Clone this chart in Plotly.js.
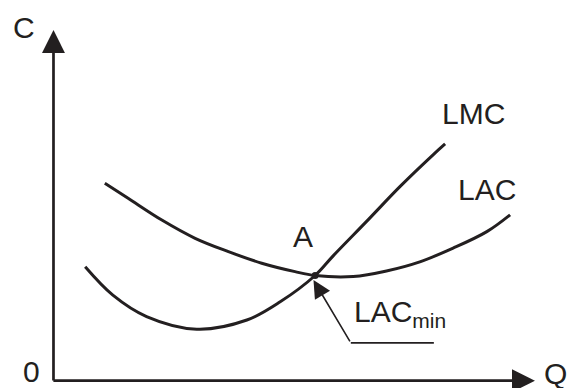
<!DOCTYPE html>
<html>
<head>
<meta charset="utf-8">
<script src="https://cdn.plot.ly/plotly-3.0.1.min.js"></script>
<style>
  html, body { margin: 0; padding: 0; background: #fff; }
  #chart { width: 569px; height: 388px; }
</style>
</head>
<body>
<div id="chart"></div>
<script>
// long-run average cost curve
var lacQ = [1.28, 1.86, 2.70, 3.53, 4.36, 5.19, 6.02, 6.52, 7.47, 8.30, 9.13, 9.96, 10.80, 11.38];
var lacC = [5.63, 5.20, 4.58, 4.06, 3.68, 3.35, 3.11, 3.00, 2.97, 3.13, 3.39, 3.78, 4.25, 4.73];

// long-run marginal cost curve
var lmcQ = [0.79, 1.48, 2.32, 3.57, 4.82, 5.65, 6.52, 6.97, 7.81, 8.64, 9.46, 9.76];
var lmcC = [3.25, 2.44, 1.83, 1.47, 1.73, 2.25, 3.00, 3.56, 4.55, 5.54, 6.44, 6.75];

// point A where the two curves cross
var pointA = [6.52, 3.00];

// leader line for the LACmin label: tip, knee, end
var leaderQ = [6.48, 7.41, 9.48];
var leaderC = [2.87, 1.08, 1.08];

// axis ends
var qMax = 12;
var cMax = 10;

var ink = "#231f20";
var font = { family: "Liberation Sans, Arial, sans-serif", size: 30, color: ink };

var data = [
  { x: lacQ, y: lacC, mode: "lines", line: { color: ink, width: 3, shape: "spline", smoothing: 1 }, hoverinfo: "skip" },
  { x: lmcQ, y: lmcC, mode: "lines", line: { color: ink, width: 3, shape: "spline", smoothing: 1 }, hoverinfo: "skip" },
  { x: leaderQ.slice(1), y: leaderC.slice(1), mode: "lines", line: { color: ink, width: 1.6 }, hoverinfo: "skip" },
  { x: [pointA[0]], y: [pointA[1]], mode: "markers", marker: { color: ink, size: 7 }, hoverinfo: "skip" }
];

var layout = {
  width: 569,
  height: 388,
  margin: { l: 0, r: 0, t: 0, b: 0, pad: 0 },
  paper_bgcolor: "#fff",
  plot_bgcolor: "#fff",
  showlegend: false,
  xaxis: { range: [-1.333, 12.848], visible: false, fixedrange: true },
  yaxis: { range: [-0.208, 10.855], visible: false, fixedrange: true },
  annotations: [
    // axes
    { x: qMax, y: 0, ax: -0.04, ay: 0, xref: "x", yref: "y", axref: "x", ayref: "y",
      text: "", showarrow: true, arrowhead: 2, arrowwidth: 2.7, arrowsize: 1.7, arrowcolor: ink },
    { x: 0, y: cMax, ax: 0, ay: -0.04, xref: "x", yref: "y", axref: "x", ayref: "y",
      text: "", showarrow: true, arrowhead: 2, arrowwidth: 2.7, arrowsize: 1.7, arrowcolor: ink },
    // leader arrow
    { x: leaderQ[0], y: leaderC[0], ax: leaderQ[1], ay: leaderC[1], xref: "x", yref: "y", axref: "x", ayref: "y",
      text: "", showarrow: true, arrowhead: 2, arrowwidth: 1.6, arrowsize: 2.2, arrowcolor: ink },
    // labels
    { x: -0.735, y: 10.06, text: "C", showarrow: false, font: font },
    { x: -0.543, y: 0.26, text: "0", showarrow: false, font: font },
    { x: 12.52, y: 0.21, text: "Q", showarrow: false, font: font },
    { x: 6.23, y: 4.11, text: "A", showarrow: false, font: font },
    { x: 10.48, y: 7.63, text: "LMC", showarrow: false, font: font },
    { x: 10.80, y: 5.44, text: "LAC", showarrow: false, font: font },
    { x: 7.43, y: 1.93, text: "LAC<sub>min</sub>", xanchor: "left", showarrow: false, font: font }
  ]
};

Plotly.newPlot("chart", data, layout, { displayModeBar: false, staticPlot: true });
</script>
</body>
</html>
